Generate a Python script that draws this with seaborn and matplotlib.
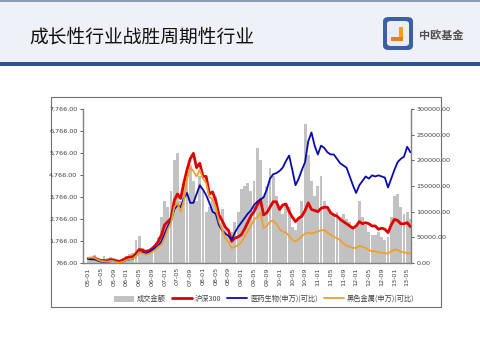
import numpy as np
import pandas as pd
import matplotlib
matplotlib.use("Agg")
import matplotlib.pyplot as plt
from matplotlib.patches import Rectangle, FancyBboxPatch
import seaborn as sns

sns.set_style("white")
plt.rcParams['font.family'] = ['Noto Sans CJK SC', 'DejaVu Sans']

# ---------------- data (monthly, 2005-01 .. 2013-06) ----------------
hs300 = [980, 970, 1000, 930, 880, 880, 860, 920, 900, 850, 850, 910,
         1000, 1030, 1050, 1200, 1380, 1350, 1300, 1320, 1420, 1550, 1750, 2050,
         2500, 2650, 2800, 3600, 3900, 3700, 4400, 5000, 5500, 5750, 5100, 5300,
         4700, 4700, 3900, 4000, 3600, 2950, 2700, 2400, 2250, 1750, 1900, 1950,
         2050, 2300, 2600, 2900, 3100, 3400, 3650, 2950, 3050, 3300, 3550, 3550,
         3200, 3400, 3450, 3100, 2850, 2650, 2800, 2900, 3150, 3500, 3200, 3150,
         3100, 3250, 3300, 3300, 3050, 2950, 2900, 2750, 2650, 2550, 2450, 2350,
         2450, 2650, 2550, 2600, 2550, 2450, 2450, 2300, 2350, 2300, 2150, 2500,
         2750, 2700, 2550, 2550, 2600, 2420]
pharma = [950, 930, 930, 880, 830, 820, 810, 850, 860, 820, 800, 830,
          900, 930, 950, 1100, 1250, 1250, 1200, 1250, 1350, 1450, 1550, 1750,
          2100, 2450, 2700, 3200, 3400, 3300, 3700, 3950, 3500, 3500, 3900, 4300,
          4100, 3850, 3500, 3100, 3000, 2500, 2250, 2100, 2000, 1820, 2150, 2400,
          2600, 2800, 3000, 3150, 3400, 3550, 3650, 3750, 4100, 4600, 4800, 4850,
          4950, 5100, 5400, 5650, 5000, 4300, 4600, 5000, 5350, 6300, 6700, 6100,
          5700, 6100, 6000, 5800, 5700, 5700, 5500, 5300, 5200, 5100, 4700, 4300,
          3950, 4300, 4500, 4700, 4600, 4750, 4700, 4750, 4700, 4650, 4200, 4600,
          5000, 5350, 5500, 5600, 6050, 5800]
ferrous = [1000, 1020, 1000, 920, 860, 840, 820, 860, 850, 800, 790, 830,
           900, 940, 960, 1080, 1250, 1200, 1150, 1170, 1250, 1350, 1500, 1600,
           1900, 2300, 2600, 3300, 3500, 3100, 3600, 4600, 5100, 4950, 4700, 5000,
           4600, 4400, 3750, 3700, 3300, 2650, 2300, 1900, 1700, 1450, 1500, 1580,
           1700, 1950, 2200, 2450, 2750, 2850, 3050, 2350, 2450, 2650, 2700, 2550,
           2300, 2200, 2150, 2000, 1820, 1750, 1850, 2000, 2100, 2150, 2100, 2150,
           2200, 2250, 2270, 2150, 2050, 1950, 1900, 1800, 1650, 1550, 1500, 1450,
           1450, 1550, 1500, 1450, 1350, 1300, 1300, 1250, 1230, 1210, 1200, 1300,
           1380, 1350, 1280, 1250, 1220, 1200]
turnover = [12000, 8000, 15000, 10000, 6000, 14000, 9000, 12000, 10000, 7000, 6000, 9000,
            14000, 18000, 20000, 45000, 52000, 30000, 20000, 18000, 25000, 32000, 50000, 90000,
            120000, 110000, 140000, 200000, 215000, 120000, 150000, 180000, 190000, 160000, 120000, 170000,
            140000, 100000, 110000, 125000, 130000, 90000, 105000, 70000, 55000, 60000, 80000, 100000,
            145000, 150000, 155000, 140000, 160000, 225000, 200000, 130000, 150000, 185000, 170000, 130000,
            110000, 95000, 115000, 110000, 70000, 65000, 90000, 120000, 270000, 210000, 160000, 130000,
            150000, 170000, 120000, 110000, 100000, 95000, 100000, 90000, 95000, 85000, 80000, 70000,
            75000, 120000, 90000, 75000, 60000, 55000, 55000, 60000, 50000, 45000, 50000, 90000,
            130000, 135000, 110000, 95000, 100000, 85000]
months = list(range(len(hs300)))
xtick_labels = ["05-01", "05-05", "05-09", "06-01", "06-05", "06-09", "07-01", "07-05", "07-09",
                "08-01", "08-05", "08-09", "09-01", "09-05", "09-09", "10-01", "10-05", "10-09",
                "11-01", "11-05", "11-09", "12-01", "12-05", "12-09", "13-01", "13-05"]
left_ticks = [766, 1766, 2766, 3766, 4766, 5766, 6766, 7766]
right_ticks = [0, 50000, 100000, 150000, 200000, 250000, 300000]
series_names = ["成交金额", "沪深300", "医药生物(申万)(可比)", "黑色金属(申万)(可比)"]
title = "成长性行业战胜周期性行业"
brand = "中欧基金"

df = pd.DataFrame({"m": months, "hs300": hs300, "pharma": pharma,
                   "ferrous": ferrous, "turnover": turnover})

W, H = 480, 360
fig = plt.figure(figsize=(4.8, 3.6), dpi=100)
fig.patch.set_facecolor("white")

def fx(px):
    return px / W

def fy(py):
    return 1 - py / H

# header band
fig.patches.append(Rectangle((0, fy(62)), 1, 62 / H, transform=fig.transFigure,
                             facecolor="#eef1f7", edgecolor="none", zorder=0))
fig.patches.append(Rectangle((0, fy(1.5)), 1, 1.5 / H, transform=fig.transFigure,
                             facecolor="#8a9bb5", edgecolor="none", zorder=1))
fig.patches.append(Rectangle((0, fy(66)), 1, 4 / H, transform=fig.transFigure,
                             facecolor="#2b5592", edgecolor="none", zorder=1))
fig.text(fx(29), fy(43), title, fontsize=13.5, color="#111111",
         ha="left", va="baseline", family=['Noto Sans CJK SC', 'DejaVu Sans'])

# logo
fig.patches.append(FancyBboxPatch((fx(383), fy(50)), fx(30), 33 / H,
                                  boxstyle="round,pad=0,rounding_size=0.012",
                                  transform=fig.transFigure, facecolor="#3d5fa6",
                                  edgecolor="none", zorder=2))
fig.patches.append(FancyBboxPatch((fx(387), fy(46)), fx(22), 25 / H,
                                  boxstyle="round,pad=0,rounding_size=0.008",
                                  transform=fig.transFigure, facecolor="#e9edf5",
                                  edgecolor="none", zorder=3))
fig.patches.append(Rectangle((fx(399), fy(41)), fx(4), 14 / H, transform=fig.transFigure,
                             facecolor="#f0a020", edgecolor="none", zorder=4))
fig.patches.append(Rectangle((fx(391), fy(41)), fx(12), 4 / H, transform=fig.transFigure,
                             facecolor="#e8801a", edgecolor="none", zorder=4))
fig.text(fx(419), fy(36), brand, fontsize=8, color="#505050", ha="left", va="center",
         fontweight="bold", family=['Noto Sans CJK SC', 'DejaVu Sans'])

# chart frame
fig.patches.append(Rectangle((fx(51), fy(307)), fx(390), 210 / H, transform=fig.transFigure,
                             facecolor="white", edgecolor="#707070", linewidth=0.8, zorder=1))

# axes
ax = fig.add_axes([fx(83), fy(263), fx(411 - 83), (263 - 109) / H], zorder=5)
ax.patch.set_alpha(0)
ax2 = ax.twinx()
ax2.set_zorder(6)
ax2.patch.set_alpha(0)

# bars on right scale
ax.bar(df["m"], df["turnover"], width=0.9, color="#c2c2c2", linewidth=0,
       label=series_names[0])
ax.set_ylim(0, 300000)
ax.yaxis.tick_right()
ax.yaxis.set_label_position("right")
ax.set_yticks(right_ticks)
ax.set_yticklabels([f"{v:.2f}" for v in right_ticks])

# lines on left scale
sns.lineplot(data=df, x="m", y="hs300", ax=ax2, color="#e00000", linewidth=2.0,
             label=series_names[1], legend=False)
sns.lineplot(data=df, x="m", y="pharma", ax=ax2, color="#0a0ab0", linewidth=1.3,
             label=series_names[2], legend=False)
sns.lineplot(data=df, x="m", y="ferrous", ax=ax2, color="#f0a028", linewidth=1.3,
             label=series_names[3], legend=False)
ax2.yaxis.tick_left()
ax2.yaxis.set_label_position("left")
ax2.set_ylim(766, 7766)
ax2.set_yticks(left_ticks)
ax2.set_yticklabels([f"{v:,.2f}" for v in left_ticks])

ax.set_xlim(-1.6, 101.2)
ax.set_xticks(list(range(0, 101, 4)))
ax.set_xticklabels(xtick_labels, rotation=90)
for a in (ax, ax2):
    a.set_xlabel("")
    a.set_ylabel("")
    for s in a.spines.values():
        s.set_visible(False)

ax2.spines["left"].set_visible(True)
ax2.spines["left"].set_color("#808080")
ax.spines["right"].set_visible(True)
ax.spines["right"].set_color("#808080")
ax.spines["bottom"].set_visible(True)
ax.spines["bottom"].set_color("#808080")
for s in ("left", "right", "bottom"):
    ax.spines[s].set_linewidth(1.0)
    ax2.spines[s].set_linewidth(1.0)

ax.tick_params(axis="y", labelsize=4.6, colors="#404040", length=2, width=0.6, pad=2)
ax.tick_params(axis="x", labelsize=4.6, colors="#404040", length=2, width=0.6, pad=3,
               direction="in")
ax2.tick_params(axis="y", labelsize=4.6, colors="#404040", length=2, width=0.6, pad=2)
ax2.tick_params(axis="x", bottom=False, labelbottom=False)
for lab in ax.get_yticklabels() + ax2.get_yticklabels() + ax.get_xticklabels():
    lab.set_family("DejaVu Sans")

# legend
h1, l1 = ax.get_legend_handles_labels()
h2, l2 = ax2.get_legend_handles_labels()
leg = fig.legend(h1 + h2, l1 + l2, loc="center", bbox_to_anchor=(fx(264), fy(299)),
                 ncol=4, frameon=False, fontsize=5.2, handlelength=2.8, handleheight=0.9,
                 columnspacing=0.8, handletextpad=0.4)
for t in leg.get_texts():
    t.set_color("#404040")

fig.savefig("out.png", dpi=100, facecolor="white")
